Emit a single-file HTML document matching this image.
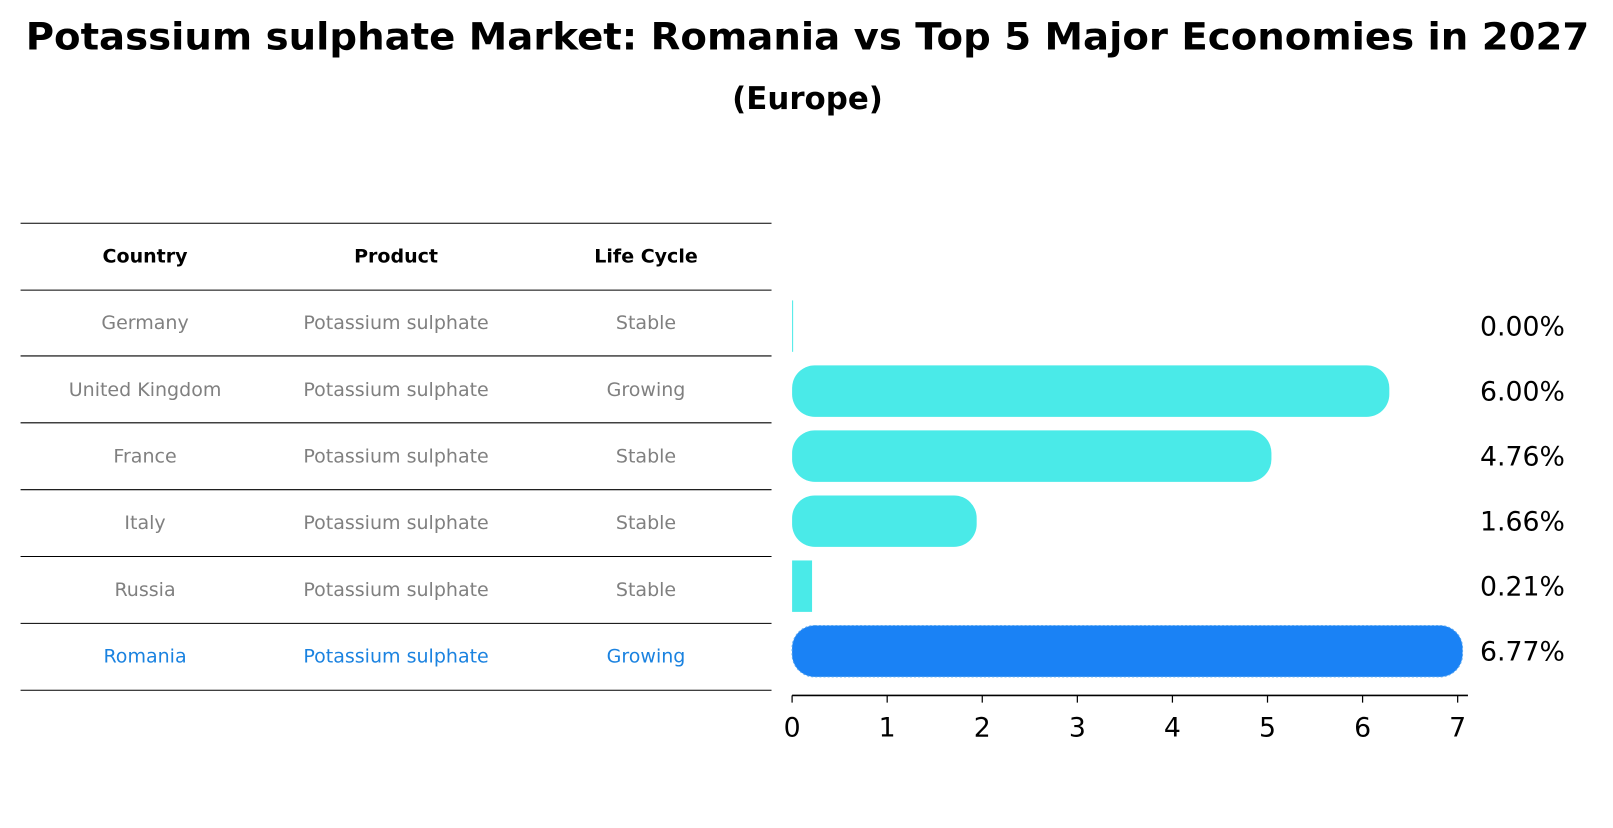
<!DOCTYPE html>
<html><head><meta charset="utf-8"><style>
body{margin:0;background:#fff;font-family:"Liberation Sans","DejaVu Sans",sans-serif;}
</style></head><body>
<svg width="1613" height="823" viewBox="0 0 1568 800" xmlns="http://www.w3.org/2000/svg" font-family="'DejaVu Sans','Liberation Sans',sans-serif">
<text x="785" y="48" text-anchor="middle" font-size="36" font-weight="bold" textLength="1520" lengthAdjust="spacingAndGlyphs">Potassium sulphate Market: Romania vs Top 5 Major Economies in 2027</text>
<text x="785" y="106" text-anchor="middle" font-size="30" font-weight="bold">(Europe)</text>
<g id="table"></g>
<g id="bars"></g>
</svg>
<script>
const countries=["Germany","United Kingdom","France","Italy","Russia","Romania"];
const products=["Potassium sulphate","Potassium sulphate","Potassium sulphate","Potassium sulphate","Potassium sulphate","Potassium sulphate"];
const lifeCycles=["Stable","Growing","Stable","Stable","Stable","Growing"];
const values=[0.00,6.00,4.76,1.66,0.21,6.77];
const ticks=[0,1,2,3,4,5,6,7];
const NS="http://www.w3.org/2000/svg";
function mk(tag,attrs,parent,text){const e=document.createElementNS(NS,tag);for(const k in attrs)e.setAttribute(k,attrs[k]);if(text!==undefined)e.textContent=text;parent.appendChild(e);return e;}
const x=v=>770+v*(1417-770)/7;
const rowY=i=>317+i*63.2;
const tbl=document.getElementById('table');
const lineYs=[217,282,346,411,476,541,606,671];
lineYs.forEach(y=>{const l=mk('line',{x1:20,x2:750,y1:y,y2:y,stroke:'#000','stroke-width':1},tbl);

});
const colX=[141,385,628];
["Country","Product","Life Cycle"].forEach((h,j)=>{const t=mk('text',{x:colX[j],y:255,'text-anchor':'middle','font-size':18.5,'font-weight':'bold'},tbl,h);

});
countries.forEach((c,i)=>{const y=320+i*64.8;const col=i===5?'#1a82e0':'#808080';
[c,products[i],lifeCycles[i]].forEach((s,j)=>{const t=mk('text',{x:colX[j],y:y,'text-anchor':'middle','font-size':18.5,fill:col},tbl,s);

});});
const g=document.getElementById('bars');
values.forEach((v,i)=>{const cy=rowY(i);const isR=i===5;const fill=isR?'#1a82f5':'#4aeae8';
let w=x(v)-770;let rx=0;if(v>1){w+=26;rx=22;}
const r=mk('rect',{x:770,y:cy-25,width:Math.max(w,1),height:50,rx:rx,fill:fill},g);
if(isR){r.setAttribute('stroke','#5aa8f0');r.setAttribute('stroke-dasharray','2,2');}


const t=mk('text',{x:1480,y:cy+9,'text-anchor':'middle','font-size':26},g,v.toFixed(2)+'%');

});
const ax=mk('line',{x1:770,x2:1427,y1:676,y2:676,stroke:'#000','stroke-width':1.5},g);


ticks.forEach(tv=>{const tk=mk('line',{x1:x(tv),x2:x(tv),y1:676,y2:683,stroke:'#000','stroke-width':1.2},g);


const t=mk('text',{x:x(tv),y:716,'text-anchor':'middle','font-size':26},g,String(tv));

});
</script>
</body></html>
